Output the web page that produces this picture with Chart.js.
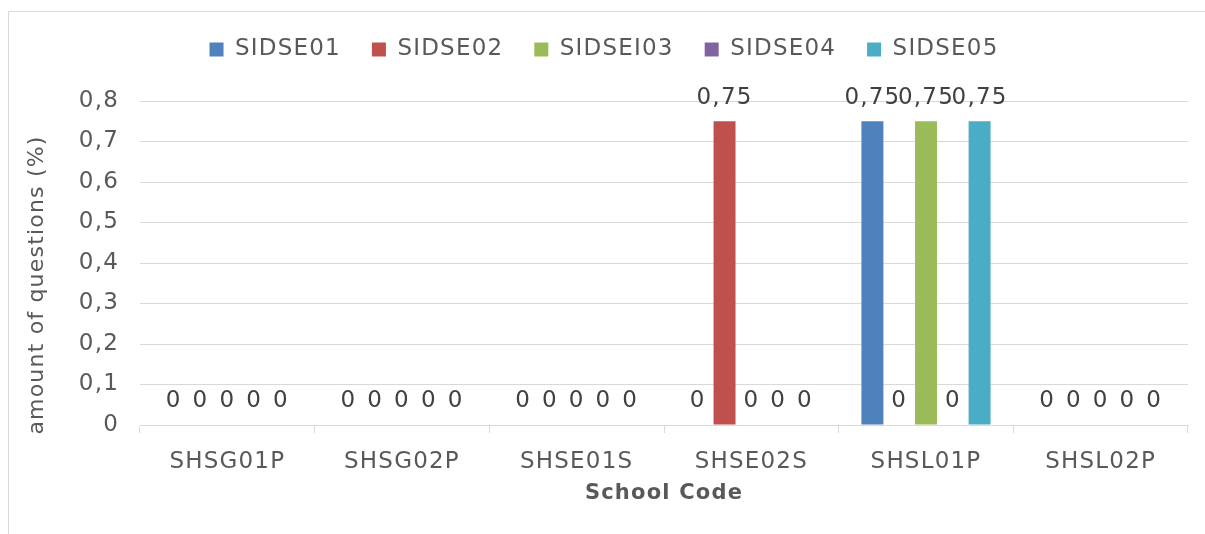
<!DOCTYPE html>
<html>
<head>
<meta charset="utf-8">
<script src="https://cdn.jsdelivr.net/npm/chart.js@4/dist/chart.umd.min.js"></script>
<style>
  html, body { margin: 0; padding: 0; background: #fff; overflow: hidden; }
  #wrap { position: relative; width: 1205px; height: 534px; overflow: hidden; }
  #frame { position: absolute; left: 8px; top: 11px; width: 1210px; height: 540px; border: 1px solid #d9d9d9; box-sizing: border-box; }
  canvas { position: absolute; left: 0; top: 0; }
</style>
</head>
<body>
<div id="wrap">
  <div id="frame"></div>
  <canvas id="barChart" width="1205" height="534"></canvas>
</div>
<script>
const categories = ['SHSG01P', 'SHSG02P', 'SHSE01S', 'SHSE02S', 'SHSL01P', 'SHSL02P'];
const seriesNames = ['SIDSE01', 'SIDSE02', 'SIDSEI03', 'SIDSE04', 'SIDSE05'];
const sidse01 = [0, 0, 0, 0, 0.75, 0];
const sidse02 = [0, 0, 0, 0.75, 0, 0];
const sidsei03 = [0, 0, 0, 0, 0.75, 0];
const sidse04 = [0, 0, 0, 0, 0, 0];
const sidse05 = [0, 0, 0, 0, 0.75, 0];
const colors = ['#4f81bd', '#c0504d', '#9bbb59', '#8064a2', '#4bacc6'];

const fontFamily = '"DejaVu Sans", Verdana, sans-serif';
const spacing = '1.2px'; // DejaVu is a bit narrower than the verdana in the original
const comma = v => String(Math.round(v * 100) / 100).replace('.', ',');

// wider letters + a taller legend block so the plot starts lower
const tweaks = {
  id: 'tweaks',
  beforeLayout(chart) {
    chart.ctx.letterSpacing = spacing;
    const legend = chart.legend;
    if (legend && !legend._patched) {
      const fit = legend.fit;
      legend.fit = function () {
        fit.call(this);
        this.height = 94;
      };
      legend._patched = true;
    }
  },
  beforeDraw(chart) {
    chart.ctx.letterSpacing = spacing;
  }
};

// y title sits a bit lower than the plot centre in the original
const yTitle = {
  id: 'yTitle',
  afterDraw(chart) {
    const ctx = chart.ctx;
    ctx.save();
    ctx.letterSpacing = spacing;
    ctx.font = '22px ' + fontFamily;
    ctx.fillStyle = '#595959';
    ctx.textAlign = 'center';
    ctx.textBaseline = 'middle';
    ctx.translate(37, 285);
    ctx.rotate(-Math.PI / 2);
    ctx.fillText('amount of questions (%)', 0, 0);
    ctx.restore();
  }
};

// draws the value above each bar, like excel data labels
const valueLabels = {
  id: 'valueLabels',
  afterDatasetsDraw(chart) {
    const ctx = chart.ctx;
    ctx.save();
    ctx.letterSpacing = spacing;
    ctx.font = '23px ' + fontFamily;
    ctx.fillStyle = '#404040';
    ctx.textAlign = 'center';
    ctx.textBaseline = 'bottom';
    chart.data.datasets.forEach((ds, i) => {
      chart.getDatasetMeta(i).data.forEach((bar, j) => {
        ctx.fillText(comma(ds.data[j]), bar.x, bar.y - 12);
      });
    });
    ctx.restore();
  }
};

const allSeries = [sidse01, sidse02, sidsei03, sidse04, sidse05];
const data = {
  labels: categories,
  datasets: allSeries.map((vals, i) => ({
    label: seriesNames[i],
    data: vals,
    backgroundColor: colors[i],
    borderWidth: 0,
    categoryPercentage: 0.767,
    barPercentage: 0.82
  }))
};

const config = {
  type: 'bar',
  data: data,
  options: {
    responsive: false,
    animation: false,
    layout: { padding: { left: 20, right: 17, top: 7, bottom: 20 } },
    plugins: {
      legend: {
        position: 'top',
        labels: {
          boxWidth: 14,
          boxHeight: 14,
          padding: 31,
          color: '#595959',
          font: { family: fontFamily, size: 23 }
        }
      },
      tooltip: { enabled: false }
    },
    scales: {
      x: {
        grid: { offset: true, drawOnChartArea: false, color: '#d9d9d9', tickLength: 8 },
        border: { color: '#d9d9d9' },
        ticks: { color: '#595959', padding: 15, font: { family: fontFamily, size: 23 } },
        title: {
          display: true,
          text: 'School Code',
          color: '#595959',
          font: { family: fontFamily, size: 21, weight: 'bold' },
          padding: { top: 4, bottom: 8 }
        },
        afterFit: s => { s.height = 534 - 425 - 20; }
      },
      y: {
        min: 0,
        max: 0.8,
        grid: { color: '#d9d9d9', drawTicks: false },
        border: { display: false },
        ticks: {
          stepSize: 0.1,
          color: '#595959',
          padding: 21,
          font: { family: fontFamily, size: 23 },
          callback: v => comma(v)
        },
        afterFit: s => { s.width = 140 - 20; }
      }
    }
  },
  plugins: [tweaks, yTitle, valueLabels]
};

const barChart = new Chart(document.getElementById('barChart'), config);
</script>
</body>
</html>
